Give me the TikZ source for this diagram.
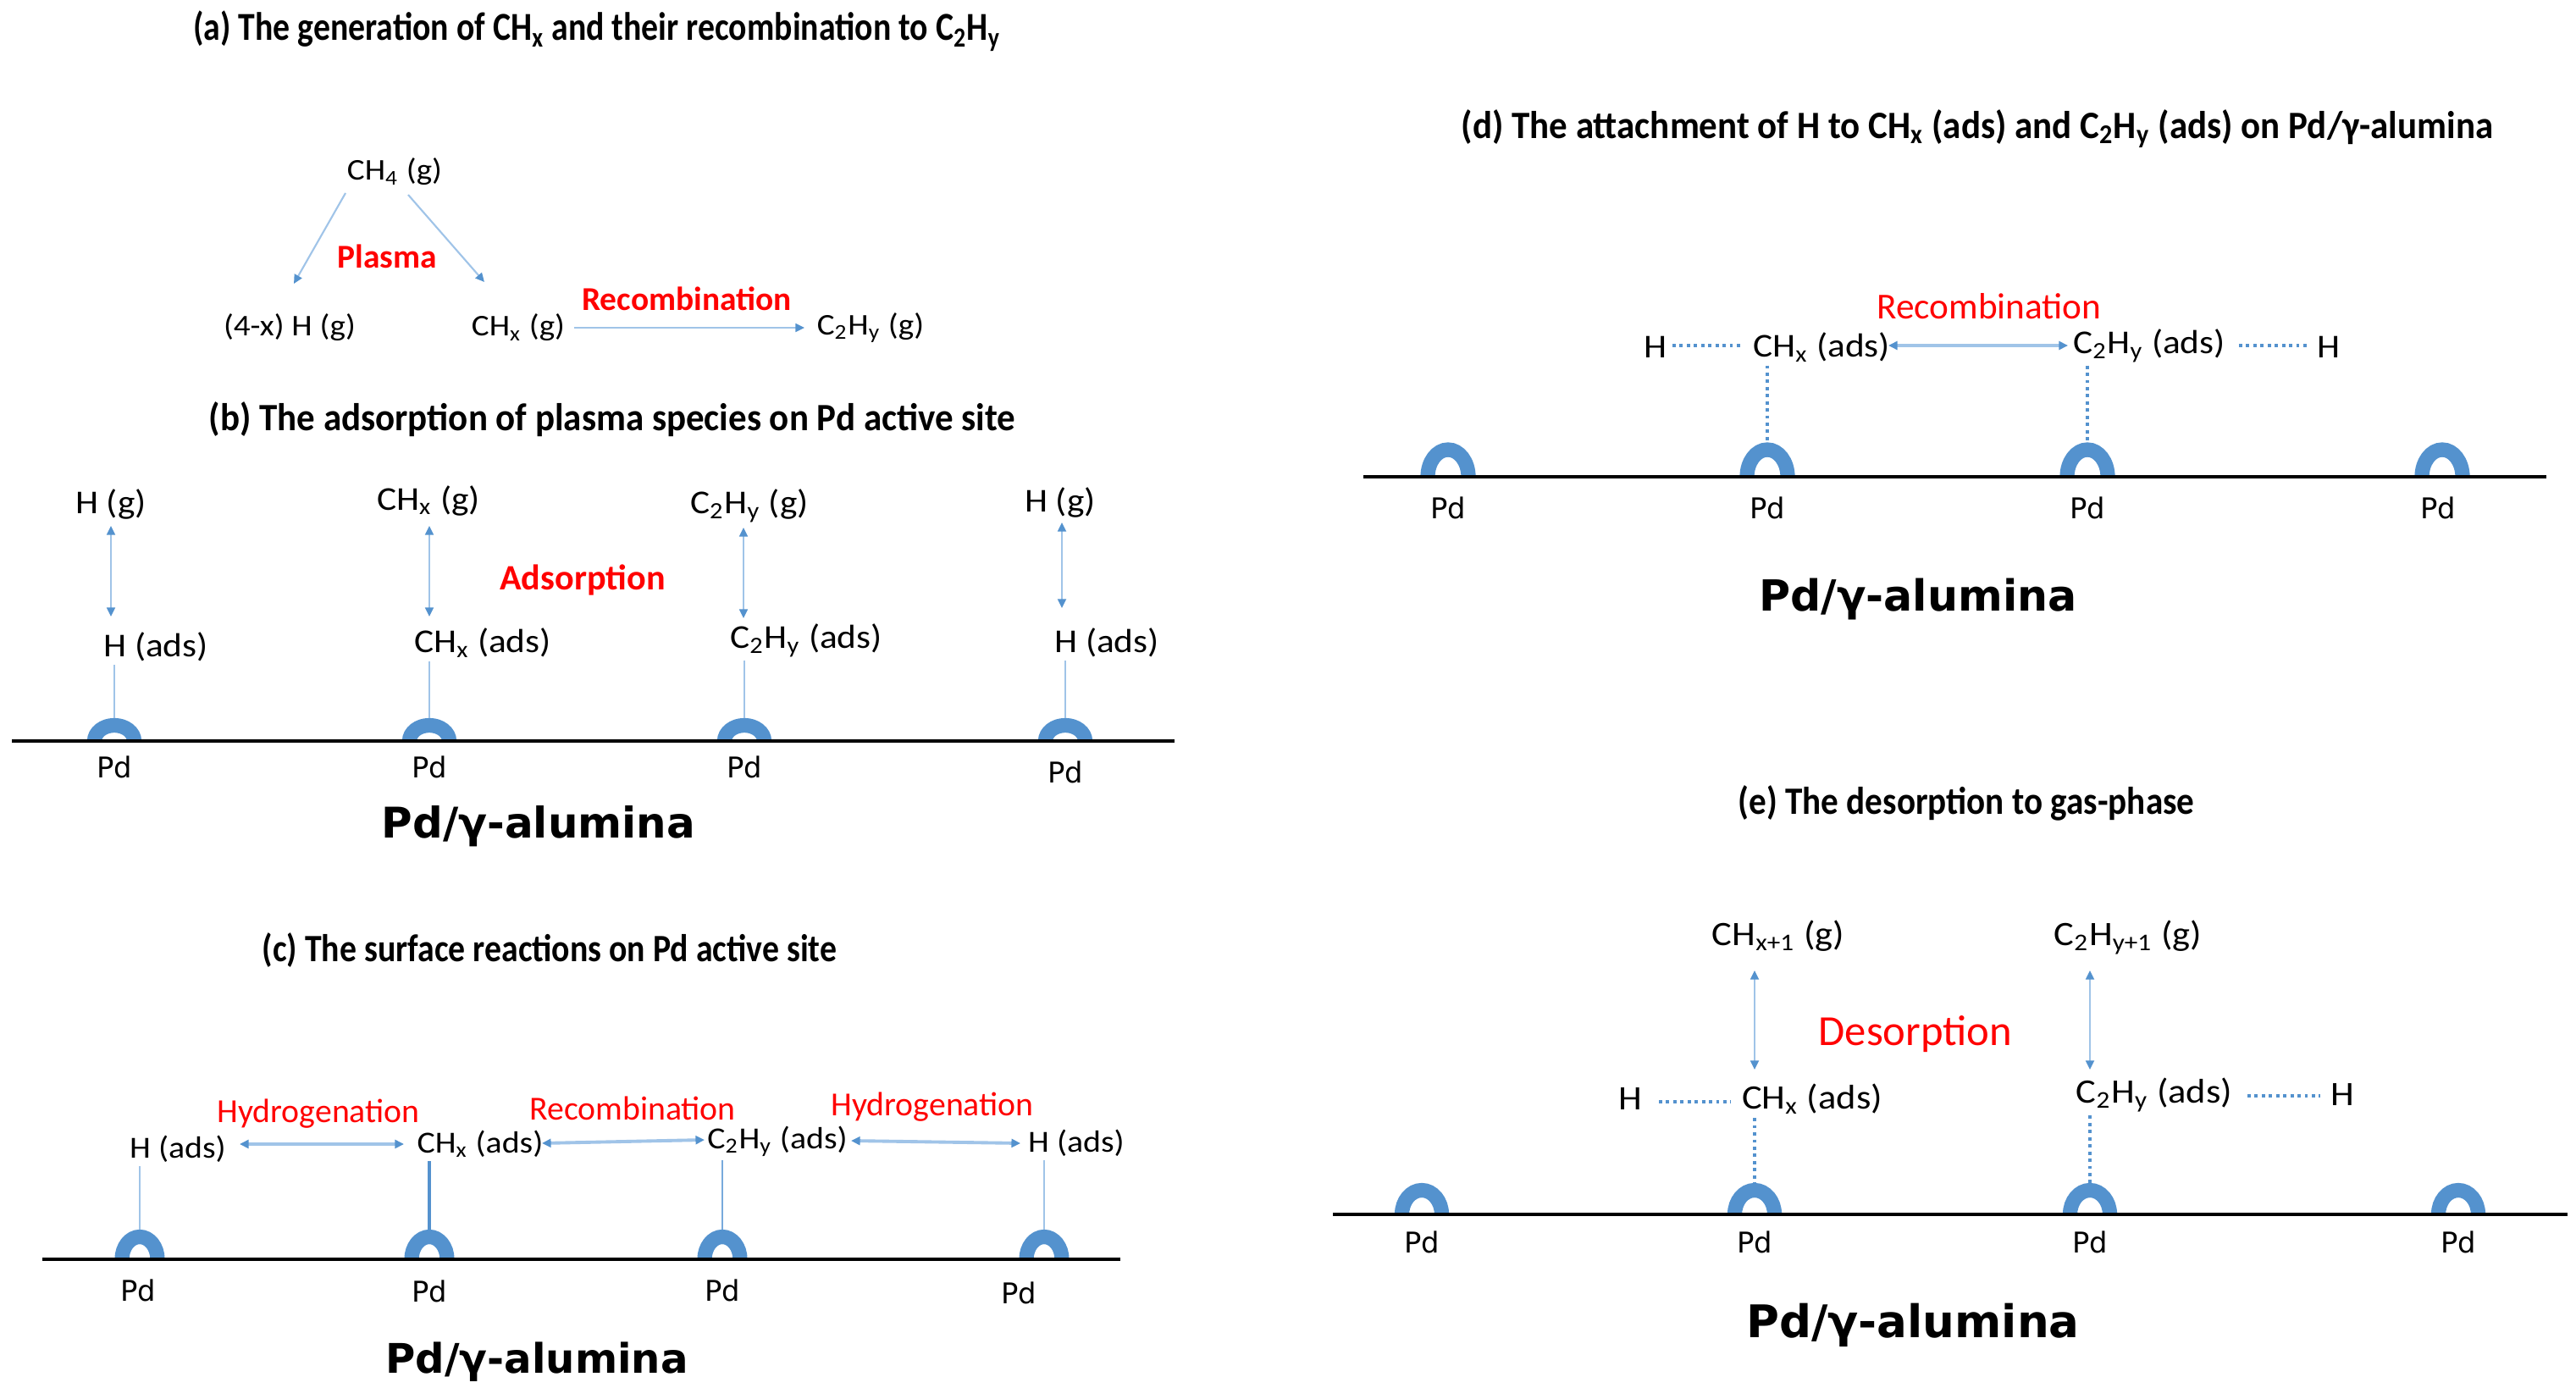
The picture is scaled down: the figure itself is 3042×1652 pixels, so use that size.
\documentclass[tikz,border=0pt]{standalone}
\usepackage{fontspec}
\setmainfont{Carlito}
\newfontfamily\vfont{DejaVu Sans}
\usetikzlibrary{arrows.meta}
\newcommand{\sbs}[1]{\textsubscript{#1}}
\newcommand{\wx}[1]{\scalebox{1.1}[1]{#1}}
\definecolor{archblue}{RGB}{84,146,206}
\definecolor{lineblue}{RGB}{160,196,232}
\definecolor{tipblue}{RGB}{84,146,206}
\definecolor{midblue}{RGB}{120,170,220}
\definecolor{redtxt}{RGB}{255,0,0}
\tikzset{
  lbl/.style={inner sep=1pt, font=\fontsize{#1}{15}\selectfont},
  ttl/.style={inner sep=1pt, font=\bfseries\fontsize{#1}{15}\selectfont},
  redb/.style={inner sep=1pt, text=redtxt, font=\bfseries\fontsize{#1}{15}\selectfont},
  redr/.style={inner sep=1pt, text=redtxt, font=\fontsize{#1}{15}\selectfont},
  alu/.style={inner sep=1pt, font=\vfont\bfseries\fontsize{#1}{24}\selectfont},
  pdl/.style={inner sep=1pt, font=\vfont\fontsize{9.6}{12}\selectfont},
  mytip/.tip={Triangle[length=3pt,width=2.8pt,color=tipblue]},
  conn/.style={draw=lineblue, line width=0.6pt},
  arr/.style={conn, -mytip},
  darr/.style={conn, mytip-mytip},
  harr/.style={draw=lineblue, line width=1.1pt, mytip-mytip},
  dotl/.style={draw=tipblue, line width=1.1pt, dash pattern=on 1.1pt off 1.3pt},
  archs/.style={draw=archblue, line width=4.9pt},
  surf/.style={draw=black, line width=1.3pt}
}
% name, x, base y, centre-line x radius, centre-line y radius (pixels)
\newcommand{\pdsite}[5]{%
  \draw[archs] (#2-#4,-#3) arc[start angle=180,end angle=0,x radius={#4*0.01cm},y radius={#5*0.01cm}];
  \coordinate (#1) at (#2,-#3+#5+8.5);}
\begin{document}
\begin{tikzpicture}[x=0.01cm,y=0.01cm]
\useasboundingbox[fill=white] (0,0) rectangle (3042,-1652);

% ---------------- (a)
\node[ttl=13.3] (ta) at (705,-37) {\scalebox{0.85}[1]{(a) The generation of CH\sbs{x} and their recombination to C\sbs{2}H\sbs{y}}};
\node[lbl=10.1] (ch4) at (466,-203) {\wx{CH\sbs{4} (g)}};
\node[lbl=10.1] (hg) at (342,-387) {\wx{(4-x) H (g)}};
\node[lbl=10.1] (chxg) at (612,-387) {\wx{CH\sbs{x} (g)}};
\node[lbl=10.1] (c2hyg) at (1028,-387) {\wx{C\sbs{2}H\sbs{y} (g)}};
\node[redb=11.2] (plasma) at (457,-303) {Plasma};
\node[redb=11.2] (recA) at (811,-353) {Recombination};
\draw[arr] ([shift={(-58,-25)}]ch4.center) -- ([shift={(5,52)}]hg.center);
\draw[arr] ([shift={(16,-27)}]ch4.center) -- ([shift={(-40,54)}]chxg.center);
\draw[arr] ([shift={(66,0)}]chxg.center) -- ([shift={(-78,0)}]c2hyg.center);

% ---------------- (b)
\node[ttl=13] (tb) at (723,-495) {\scalebox{0.94}[1]{(b) The adsorption of plasma species on Pd active site}};
\pdsite{sb1}{135}{875}{23.5}{18.5}
\pdsite{sb2}{507}{875}{23.5}{18.5}
\pdsite{sb3}{879}{875}{23.5}{18.5}
\pdsite{sb4}{1258}{875}{23.5}{18.5}
\draw[surf] (14,-875) -- (1387,-875);
\node[pdl] (pb1) at (135,-906) {Pd};
\node[pdl] (pb2) at (507,-906) {Pd};
\node[pdl] (pb3) at (879,-906) {Pd};
\node[pdl] (pb4) at (1258,-912) {Pd};
\node[lbl=11.2] (bg1) at (131,-595) {\wx{H (g)}};
\node[lbl=11.2] (bg2) at (506,-591) {\wx{CH\sbs{x} (g)}};
\node[lbl=11.2] (bg3) at (885,-597) {\wx{C\sbs{2}H\sbs{y} (g)}};
\node[lbl=11.2] (bg4) at (1252,-593) {\wx{H (g)}};
\node[lbl=11.2] (ba1) at (184,-764) {\wx{H (ads)}};
\node[lbl=11.2] (ba2) at (570,-759) {\wx{CH\sbs{x} (ads)}};
\node[lbl=11.2] (ba3) at (952,-756) {\wx{C\sbs{2}H\sbs{y} (ads)}};
\node[lbl=11.2] (ba4) at (1307,-759) {\wx{H (ads)}};
\node[redb=12] (ads) at (688,-685) {Adsorption};
\draw[darr] ([shift={(0,-26)}]bg1.center) -- ([shift={(-53,36)}]ba1.center);
\draw[darr] ([shift={(1,-30)}]bg2.center) -- ([shift={(-63,31)}]ba2.center);
\draw[darr] ([shift={(-7,-26)}]bg3.center) -- ([shift={(-74,26)}]ba3.center);
\draw[darr] ([shift={(2,-24)}]bg4.center) -- ([shift={(-53,41)}]ba4.center);
\draw[conn] (sb1 |- ba1.south) -- (sb1);
\draw[conn] (sb2 |- ba2.south) -- (sb2);
\draw[conn] (sb3 |- ba3.south) -- (sb3);
\draw[conn] (sb4 |- ba4.south) -- (sb4);
\node[alu=14.2] (alb) at (636,-976) {Pd/γ-alumina};

% ---------------- (c)
\node[ttl=13] (tc) at (649,-1122) {\scalebox{0.87}[1]{(c) The surface reactions on Pd active site}};
\pdsite{sc1}{165}{1487}{21}{26.5}
\pdsite{sc2}{507}{1487}{21}{26.5}
\pdsite{sc3}{853}{1487}{21}{26.5}
\pdsite{sc4}{1233}{1487}{21}{26.5}
\draw[surf] (50,-1487) -- (1323,-1487);
\node[pdl] (pc1) at (163,-1524) {Pd};
\node[pdl] (pc2) at (507,-1525) {Pd};
\node[pdl] (pc3) at (853,-1524) {Pd};
\node[pdl] (pc4) at (1203,-1527) {Pd};
\node[lbl=10.3] (ca1) at (210,-1357) {\wx{H (ads)}};
\node[lbl=10.3] (ca2) at (567,-1351) {\wx{CH\sbs{x} (ads)}};
\node[lbl=10.3] (ca3) at (918,-1348) {\wx{C\sbs{2}H\sbs{y} (ads)}};
\node[lbl=10.3] (ca4) at (1271,-1350) {\wx{H (ads)}};
\node[redr=11.3] (hyd1) at (376,-1315) {Hydrogenation};
\node[redr=11.3] (recC) at (747,-1309) {Recombination};
\node[redr=11.3] (hyd2) at (1101,-1307) {Hydrogenation};
\draw[harr] ([shift={(73,6)}]ca1.center) -- ([shift={(-90,0)}]ca2.center);
\draw[harr] ([shift={(73,1)}]ca2.center) -- ([shift={(-86,2)}]ca3.center);
\draw[harr] ([shift={(87,1)}]ca3.center) -- ([shift={(-66,0)}]ca4.center);
\draw[conn] (sc1 |- ca1.south) -- (sc1);
\draw[draw=tipblue, line width=1.1pt] (sc2 |- ca2.south) -- (sc2);
\draw[draw=midblue, line width=0.8pt] (sc3 |- ca3.south) -- (sc3);
\draw[conn] (sc4 |- ca4.south) -- (sc4);
\node[alu=13.7] (alc) at (634,-1608) {Pd/γ-alumina};

% ---------------- (d)
\node[ttl=13] (td) at (2335,-152) {\scalebox{0.94}[1]{(d) The attachment of H to CH\sbs{x} (ads) and C\sbs{2}H\sbs{y} (ads) on Pd/γ-alumina}};
\pdsite{sd1}{1710}{563}{24}{32}
\pdsite{sd2}{2087}{563}{24}{32}
\pdsite{sd3}{2465}{563}{24}{32}
\pdsite{sd4}{2884}{563}{24}{32}
\draw[surf] (1610,-563) -- (3007,-563);
\node[pdl] (pd1) at (1710,-600) {Pd};
\node[pdl] (pd2) at (2087,-600) {Pd};
\node[pdl] (pd3) at (2465,-600) {Pd};
\node[pdl] (pd4) at (2879,-600) {Pd};
\node[redr=12.3] (recD) at (2349,-362) {Recombination};
\node[lbl=11.2] (dh1) at (1955,-410) {\wx{H}};
\node[lbl=11.2] (da1) at (2151,-410) {\wx{CH\sbs{x} (ads)}};
\node[lbl=11.2] (da2) at (2538,-408) {\wx{C\sbs{2}H\sbs{y} (ads)}};
\node[lbl=11.2] (dh2) at (2750,-410) {\wx{H}};
\draw[dotl] ([shift={(20,2)}]dh1.center) -- ([shift={(-93,2)}]da1.center);
\draw[harr] ([shift={(79,2)}]da1.center) -- ([shift={(-96,0)}]da2.center);
\draw[dotl] ([shift={(106,0)}]da2.center) -- ([shift={(-23,2)}]dh2.center);
\draw[dotl] (sd2 |- da1.south) -- (sd2);
\draw[dotl] (sd3 |- da2.south) -- (sd3);
\node[alu=14.4] (ald) at (2265,-708) {Pd/γ-alumina};

% ---------------- (e)
\node[ttl=13] (te) at (2322,-948) {\scalebox{0.9}[1]{(e) The desorption to gas-phase}};
\pdsite{se1}{1679}{1434}{23.5}{28.5}
\pdsite{se2}{2072}{1434}{23.5}{28.5}
\pdsite{se3}{2468}{1434}{23.5}{28.5}
\pdsite{se4}{2903}{1434}{23.5}{28.5}
\draw[surf] (1574,-1434) -- (3032,-1434);
\node[pdl] (pe1) at (1679,-1467) {Pd};
\node[pdl] (pe2) at (2072,-1467) {Pd};
\node[pdl] (pe3) at (2468,-1467) {Pd};
\node[pdl] (pe4) at (2903,-1467) {Pd};
\node[lbl=11.5] (eg1) at (2100,-1105) {\wx{CH\sbs{x+1} (g)}};
\node[lbl=11.5] (eg2) at (2513,-1107) {\wx{C\sbs{2}H\sbs{y+1} (g)}};
\node[redr=14.4] (desor) at (2262,-1221) {Desorption};
\node[lbl=11.5] (eh1) at (1925,-1298) {\wx{H}};
\node[lbl=11.5] (ea1) at (2140,-1298) {\wx{CH\sbs{x} (ads)}};
\node[lbl=11.5] (ea2) at (2544,-1293) {\wx{C\sbs{2}H\sbs{y} (ads)}};
\node[lbl=11.5] (eh2) at (2766,-1293) {\wx{H}};
\draw[darr] ([shift={(-28,-41)}]eg1.center) -- ([shift={(-68,35)}]ea1.center);
\draw[darr] ([shift={(-45,-39)}]eg2.center) -- ([shift={(-76,30)}]ea2.center);
\draw[dotl] ([shift={(34,-3)}]eh1.center) -- ([shift={(-96,-3)}]ea1.center);
\draw[dotl] ([shift={(110,-1)}]ea2.center) -- ([shift={(-26,-1)}]eh2.center);
\draw[dotl] (se2 |- ea1.south) -- (se2);
\draw[dotl] (se3 |- ea2.south) -- (se3);
\node[alu=15.1] (ale) at (2259,-1565) {Pd/γ-alumina};
\end{tikzpicture}
\end{document}
